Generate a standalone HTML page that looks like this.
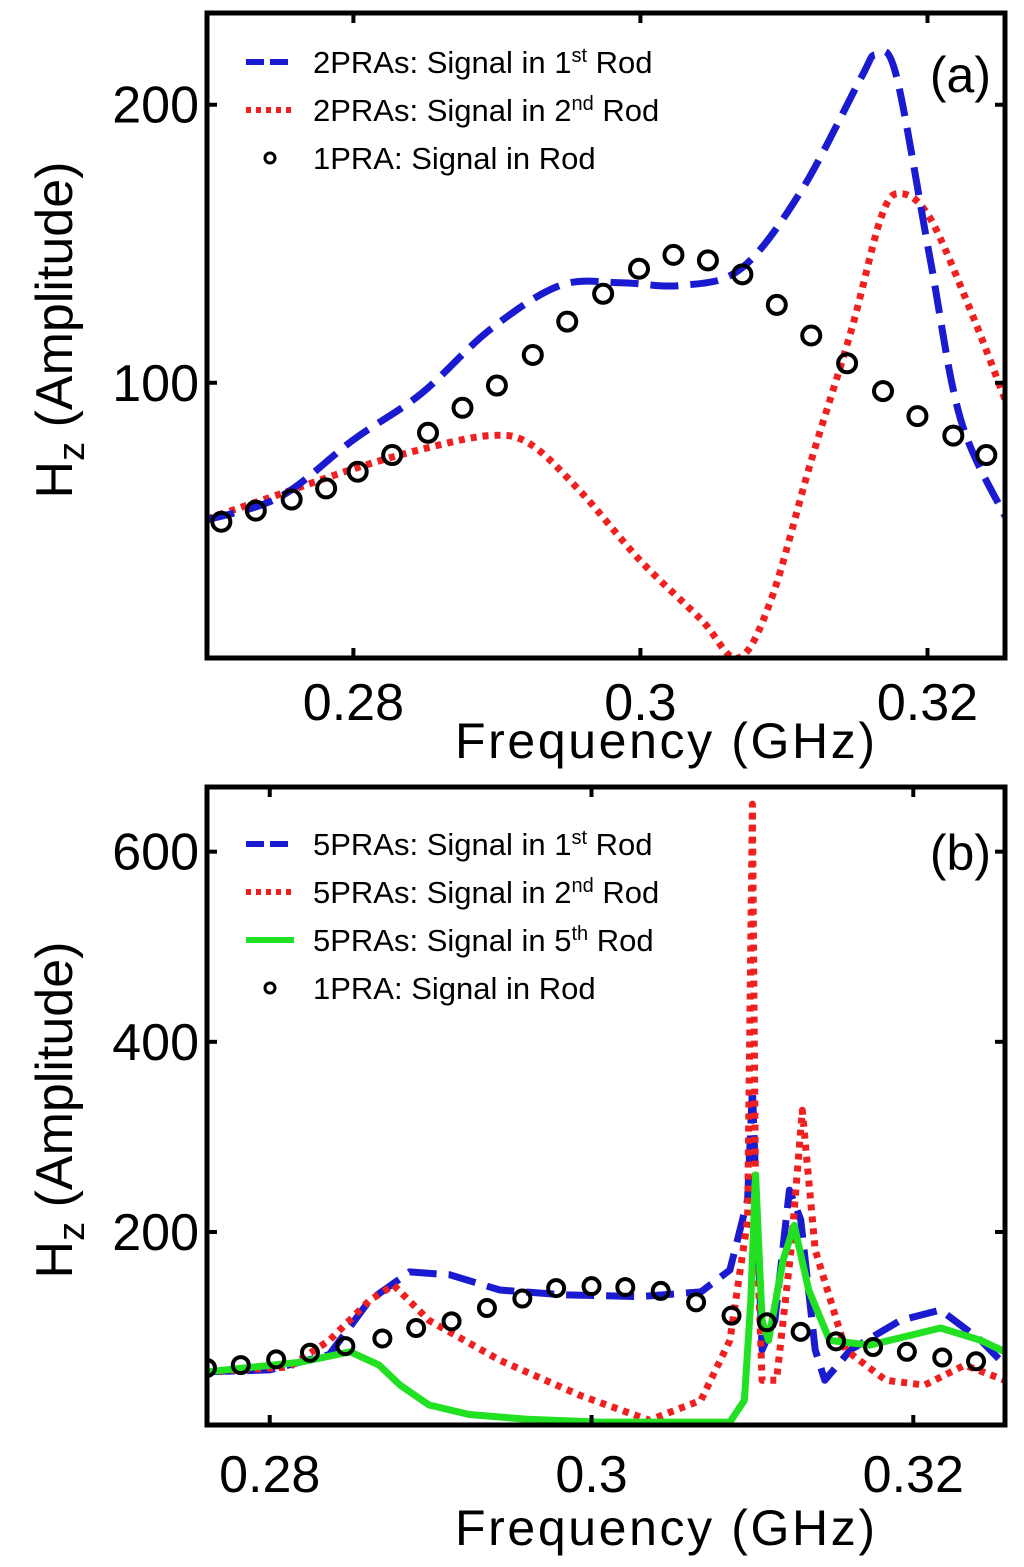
<!DOCTYPE html>
<html><head><meta charset="utf-8">
<style>
html,body{margin:0;padding:0;background:#fff;}
svg{display:block;font-family:"Liberation Sans",sans-serif;}
</style></head>
<body>
<svg id="c" width="1024" height="1567" viewBox="0 0 1024 1567">
</svg>
<script>
// ---- Panel (a) data ----
const aBlueX=[0.2698,0.2749,0.28,0.2847,0.2895,0.2944,0.2986,0.3028,0.3070,0.3112,0.3153,0.3164,0.3178,0.3202,0.3223,0.3254];
const aBlueY=[50.7,59,79.5,96,119,135,136,135,141,169,209,218,211,144,87,52];
const aRedX=[0.2698,0.2749,0.28,0.2847,0.2895,0.2923,0.2958,0.3,0.3042,0.3068,0.3091,0.3119,0.3147,0.3168,0.3182,0.3202,0.3230,0.3254];
const aRedY=[51,60,69,76,81,78,61,36,15,1,22,72,119,160,168,159,126,94];
const aCircX=[0.2708,0.2732,0.2757,0.2781,0.2803,0.2827,0.2852,0.2876,0.2900,0.2925,0.2949,0.2974,0.2999,0.3023,0.3047,0.3071,0.3095,0.3119,0.3144,0.3169,0.3193,0.3218,0.3241];
const aCircY=[50,54,58,62,68,74,82,91,99,110,122,132,141,146,144,139,128,117,107,97,88,81,74];
const aYTicks=[100,200];
const aXTicks=[0.28,0.3,0.32];
// ---- Panel (b) data ----
const bBlueX=[0.2761,0.28,0.2837,0.2862,0.2887,0.2912,0.2943,0.2981,0.3030,0.3068,0.3086,0.3097,0.3100,0.3102,0.3106,0.3114,0.3123,0.3130,0.3139,0.3145,0.3161,0.3192,0.3217,0.3242,0.3257];
const bBlueY=[53,55,71,128,158,155,139,134,132,137,160,234,350,255,76,107,244,213,76,44,76,107,118,86,60];
const bRedX=[0.2761,0.2812,0.2837,0.2862,0.2877,0.2899,0.2943,0.2993,0.3036,0.3068,0.3086,0.3097,0.3100,0.3102,0.3106,0.3110,0.3115,0.3124,0.3131,0.3139,0.3158,0.3183,0.3207,0.3232,0.3257];
const bRedY=[53,58,86,128,144,107,65,28,2,23,86,213,650,234,44,44,44,181,328,181,76,44,39,60,44];
const bGreenX=[0.2761,0.2819,0.2850,0.2868,0.2881,0.2899,0.2924,0.2960,0.3005,0.3086,0.3095,0.3099,0.3102,0.3106,0.3110,0.3119,0.3126,0.3135,0.3148,0.3173,0.3217,0.3242,0.3257];
const bGreenY=[53,63,74,60,39,18,8,3,0,0,23,128,260,107,86,170,207,139,86,81,99,86,74];
const bCircX=[0.2761,0.2782,0.2804,0.2825,0.2847,0.2870,0.2891,0.2913,0.2935,0.2957,0.2978,0.3000,0.3021,0.3043,0.3065,0.3087,0.3109,0.3130,0.3152,0.3175,0.3196,0.3218,0.3239];
const bCircY=[57,60,66,73,80,88,99,106,120,130,141,143,142,138,126,112,105,95,85,79,74,68,64];
const bYTicks=[200,400,600];
const bXTicks=[0.28,0.3,0.32];

const NS='http://www.w3.org/2000/svg';
const svg=document.getElementById('c');
function mk(tag,attrs,parent,text){const e=document.createElementNS(NS,tag);for(const k in attrs)e.setAttribute(k,attrs[k]);if(text!==undefined)e.textContent=text;(parent||svg).appendChild(e);return e;}
function smoothPath(p){
  let d='M'+p[0][0].toFixed(1)+','+p[0][1].toFixed(1);
  for(let i=0;i<p.length-1;i++){
    const p0=p[Math.max(0,i-1)],p1=p[i],p2=p[i+1],p3=p[Math.min(p.length-1,i+2)];
    const c1=[p1[0]+(p2[0]-p0[0])/6,p1[1]+(p2[1]-p0[1])/6];
    const c2=[p2[0]-(p3[0]-p1[0])/6,p2[1]-(p3[1]-p1[1])/6];
    d+=' C'+c1[0].toFixed(1)+','+c1[1].toFixed(1)+' '+c2[0].toFixed(1)+','+c2[1].toFixed(1)+' '+p2[0].toFixed(1)+','+p2[1].toFixed(1);
  }
  return d;
}

function panel(o){
  const g=mk('g',{});
  
  
  const sx=v=>o.L+(v-o.x0)/(o.x1-o.x0)*(o.R-o.L);
  const sy=v=>o.B-(v-o.y0)/(o.y1-o.y0)*(o.B-o.T);
  const clip='clip'+o.id;
  const cp=mk('clipPath',{id:clip},g);mk('rect',{x:o.L,y:o.T,width:o.R-o.L,height:o.B-o.T},cp);
  const plot=mk('g',{'clip-path':'url(#'+clip+')'},g);
  o.series.forEach(s=>{
    const pts=s.x.map((v,i)=>[sx(v),sy(s.y[i])]);
    const d=o.smooth?smoothPath(pts):'M'+pts.map(q=>q[0].toFixed(1)+','+q[1].toFixed(1)).join(' L');
    const p=mk('path',{d:d,fill:'none',stroke:s.color,'stroke-width':s.w,'stroke-dasharray':s.dash||'none','stroke-linejoin':'round'},plot);
    
    
  });
  o.circ.x.forEach((v,i)=>{
    const c=mk('circle',{cx:sx(v),cy:sy(o.circ.y[i]),r:o.cr,fill:'none',stroke:'#000','stroke-width':4},plot);
    
    
  });
  const fr=mk('rect',{x:o.L,y:o.T,width:o.R-o.L,height:o.B-o.T,fill:'none',stroke:'#000','stroke-width':5},g);
  
  
  o.xt.forEach(v=>{
    mk('line',{x1:sx(v),x2:sx(v),y1:o.B,y2:o.B-10,stroke:'#000','stroke-width':4},g);
    mk('line',{x1:sx(v),x2:sx(v),y1:o.T,y2:o.T+10,stroke:'#000','stroke-width':4},g);
    const t=mk('text',{x:sx(v),y:o.xtY,'text-anchor':'middle','font-size':52},g,String(v));
    
    
  });
  o.yt.forEach(v=>{
    mk('line',{x1:o.L,x2:o.L+10,y1:sy(v),y2:sy(v),stroke:'#000','stroke-width':4},g);
    mk('line',{x1:o.R,x2:o.R-10,y1:sy(v),y2:sy(v),stroke:'#000','stroke-width':4},g);
    const t=mk('text',{x:o.L-8,y:sy(v)+18,'text-anchor':'end','font-size':52},g,String(v));
    
    
  });
  const xt=mk('text',{x:665,y:o.xtitleY,'text-anchor':'middle','font-size':50,'textLength':420},g,'Frequency (GHz)');
  
  
  const yt=mk('text',{transform:'translate(72,'+o.ytitleY+') rotate(-90)','text-anchor':'middle','font-size':52},g);
  
  
  mk('tspan',{},yt,'H');mk('tspan',{dy:12,'font-size':38},yt,'z');mk('tspan',{dy:-12},yt,' (Amplitude)');
  const pl=mk('text',{x:o.R-14,y:o.labY,'text-anchor':'end','font-size':50},g,o.label);
  
  
  o.legend.forEach((e,i)=>{
    const y=o.legY+i*48;
    const lg=mk('g',{},g);
    
    
    if(e.circle) mk('circle',{cx:270,cy:y,r:5,fill:'none',stroke:'#000','stroke-width':3},lg);
    else mk('line',{x1:246,x2:294,y1:y,y2:y,stroke:e.color,'stroke-width':e.w,'stroke-dasharray':e.dash||'none'},lg);
    const t=mk('text',{x:313,y:y+11,'font-size':31},lg);
    mk('tspan',{},t,e.a);
    if(e.sup){mk('tspan',{dy:-11,'font-size':20},t,e.sup);mk('tspan',{dy:11},t,' Rod');}
  });
}

panel({id:'a',name:'panel-a',smooth:true,cr:9,L:207,R:1005,T:13,B:658,x0:0.2698,x1:0.3254,y0:1,y1:233,
  xt:aXTicks,yt:aYTicks,xtY:720,xtitleY:758,ytitleY:330,label:'(a)',labY:92,legY:62,
  series:[
    {name:'red-dotted-2nd-rod',x:aRedX,y:aRedY,color:'#f02020',w:7,dash:'6 6'},
    {name:'blue-dashed-1st-rod',x:aBlueX,y:aBlueY,color:'#1a1ad0',w:7,dash:'28 12'}],
  circ:{x:aCircX,y:aCircY},
  legend:[{color:'#1a1ad0',w:6,dash:'18 6',a:'2PRAs: Signal in 1',sup:'st'},
          {color:'#f02020',w:6,dash:'5 5',a:'2PRAs: Signal in 2',sup:'nd'},
          {circle:true,a:'1PRA: Signal in Rod'}]
});
panel({id:'b',name:'panel-b',smooth:false,cr:8,L:207,R:1005,T:787,B:1425,x0:0.2761,x1:0.3257,y0:-3,y1:668,
  xt:bXTicks,yt:bYTicks,xtY:1492,xtitleY:1545,ytitleY:1110,label:'(b)',labY:870,legY:844,
  series:[
    {name:'blue-dashed-1st-rod',x:bBlueX,y:bBlueY,color:'#1a1ad0',w:7,dash:'28 12'},
    {name:'red-dotted-2nd-rod',x:bRedX,y:bRedY,color:'#f02020',w:7,dash:'6 6'},
    {name:'green-solid-5th-rod',x:bGreenX,y:bGreenY,color:'#22e022',w:7}],
  circ:{x:bCircX,y:bCircY},
  legend:[{color:'#1a1ad0',w:6,dash:'18 6',a:'5PRAs: Signal in 1',sup:'st'},
          {color:'#f02020',w:6,dash:'5 5',a:'5PRAs: Signal in 2',sup:'nd'},
          {color:'#22e022',w:6,a:'5PRAs: Signal in 5',sup:'th'},
          {circle:true,a:'1PRA: Signal in Rod'}]
});
</script>
</body></html>
